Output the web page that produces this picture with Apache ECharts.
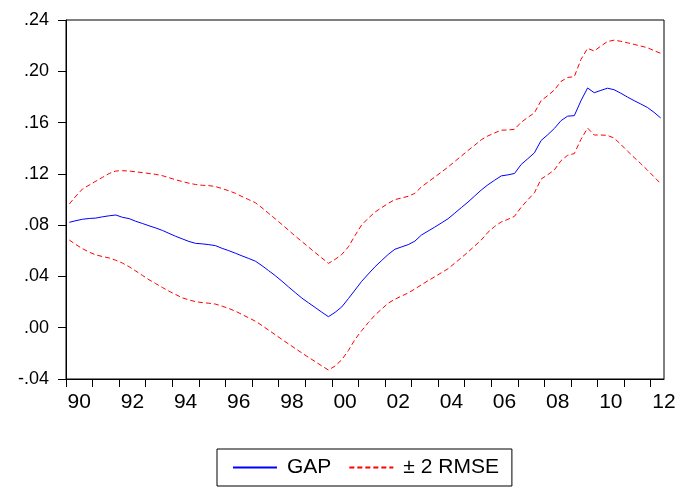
<!DOCTYPE html>
<html>
<head>
<meta charset="utf-8">
<script src="https://cdn.jsdelivr.net/npm/echarts@6/dist/echarts.min.js"></script>
<style>
  html, body { margin: 0; padding: 0; background: #fff; }
  #chart { width: 680px; height: 488px; }
</style>
</head>
<body>
<div id="chart"></div>
<script>
// quarterly observations, 1990Q1 .. 2012Q2
const startYear = 1990;

const gap = [
  0.0822, 0.0835, 0.0846, 0.0852, 0.0855, 0.0865, 0.0873, 0.0879, 0.0861, 0.0851,
  0.0830, 0.0813, 0.0795, 0.0778, 0.0759, 0.0736, 0.0713, 0.0693, 0.0673, 0.0658,
  0.0654, 0.0648, 0.0640, 0.0619, 0.0601, 0.0581, 0.0560, 0.0540, 0.0519, 0.0484,
  0.0445, 0.0406, 0.0363, 0.0318, 0.0274, 0.0231, 0.0194, 0.0158, 0.0121, 0.0086,
  0.0120, 0.0162, 0.0227, 0.0294, 0.0362, 0.0419, 0.0475, 0.0524, 0.0572, 0.0612,
  0.0630, 0.0648, 0.0675, 0.0723, 0.0754, 0.0785, 0.0817, 0.0850, 0.0893, 0.0937,
  0.0980, 0.1027, 0.1074, 0.1115, 0.1150, 0.1184, 0.1192, 0.1203, 0.1273, 0.1318,
  0.1364, 0.1460, 0.1505, 0.1554, 0.1615, 0.1650, 0.1654, 0.1770, 0.1870, 0.1833,
  0.1851, 0.1868, 0.1856, 0.1829, 0.1799, 0.1771, 0.1745, 0.1718, 0.1680, 0.1636
];

const upper = [
  0.0965, 0.1027, 0.1083, 0.1113, 0.1143, 0.1173, 0.1203, 0.1222, 0.1225, 0.1222,
  0.1216, 0.1210, 0.1203, 0.1196, 0.1186, 0.1170, 0.1154, 0.1140, 0.1127, 0.1117,
  0.1111, 0.1108, 0.1101, 0.1085, 0.1068, 0.1048, 0.1023, 0.0999, 0.0975, 0.0935,
  0.0892, 0.0849, 0.0805, 0.0760, 0.0715, 0.0672, 0.0629, 0.0586, 0.0544, 0.0502,
  0.0533, 0.0571, 0.0631, 0.0719, 0.0802, 0.0854, 0.0902, 0.0936, 0.0970, 0.0999,
  0.1012, 0.1025, 0.1048, 0.1099, 0.1137, 0.1175, 0.1214, 0.1253, 0.1296, 0.1339,
  0.1382, 0.1423, 0.1466, 0.1496, 0.1519, 0.1541, 0.1542, 0.1548, 0.1602, 0.1640,
  0.1676, 0.1771, 0.1810, 0.1854, 0.1921, 0.1952, 0.1958, 0.2092, 0.2179, 0.2158,
  0.2197, 0.2232, 0.2243, 0.2234, 0.2222, 0.2210, 0.2197, 0.2184, 0.2161, 0.2140
];

const lower = [
  0.0684, 0.0648, 0.0616, 0.0589, 0.0568, 0.0555, 0.0544, 0.0526, 0.0504, 0.0476,
  0.0442, 0.0408, 0.0374, 0.0344, 0.0314, 0.0285, 0.0259, 0.0233, 0.0217, 0.0203,
  0.0196, 0.0191, 0.0184, 0.0168, 0.0150, 0.0129, 0.0103, 0.0077, 0.0051, 0.0017,
  -0.0019, -0.0055, -0.0091, -0.0127, -0.0162, -0.0197, -0.0231, -0.0264, -0.0298, -0.0330,
  -0.0299, -0.0250, -0.0178, -0.0091, -0.0023, 0.0040, 0.0098, 0.0145, 0.0192, 0.0222,
  0.0247, 0.0271, 0.0302, 0.0335, 0.0367, 0.0397, 0.0429, 0.0460, 0.0503, 0.0546,
  0.0590, 0.0637, 0.0684, 0.0744, 0.0789, 0.0825, 0.0845, 0.0869, 0.0939, 0.0998,
  0.1052, 0.1159, 0.1193, 0.1231, 0.1303, 0.1345, 0.1358, 0.1469, 0.1557, 0.1503,
  0.1503, 0.1500, 0.1479, 0.1430, 0.1378, 0.1328, 0.1280, 0.1230, 0.1177, 0.1124
];

// year boundaries get a tick, even years get a label in the middle of the year
const yearTicks = [1990, 1991, 1992, 1993, 1994, 1995, 1996, 1997, 1998, 1999, 2000, 2001,
  2002, 2003, 2004, 2005, 2006, 2007, 2008, 2009, 2010, 2011, 2012];
const labelYears = [1990, 1992, 1994, 1996, 1998, 2000, 2002, 2004, 2006, 2008, 2010, 2012];
const yearLabels = ['90', '92', '94', '96', '98', '00', '02', '04', '06', '08', '10', '12'];

// each quarter is plotted at the middle of its period
const quarterPos = gap.map((v, i) => startYear + (i + 0.5) / 4);
const toPairs = arr => arr.map((v, i) => [quarterPos[i], v]);

const chart = echarts.init(document.getElementById('chart'));

const option = {
  animation: false,
  backgroundColor: '#fff',
  grid: {
    left: 66, right: 16, top: 20, bottom: 109,
    show: true, borderColor: '#000', borderWidth: 1
  },
  xAxis: {
    type: 'value',
    min: 1990,
    max: 2012.5,
    interval: 1,
    splitLine: { show: false },
    axisLine: { onZero: false, lineStyle: { color: '#000', width: 1 } },
    axisTick: {
      customValues: yearTicks,
      length: 8,
      lineStyle: { color: '#000' }
    },
    axisLabel: {
      customValues: labelYears.map(y => y + 0.5),
      formatter: v => yearLabels[labelYears.indexOf(Math.floor(v))] || '',
      color: '#000',
      fontFamily: 'Liberation Sans',
      fontSize: 21,
      margin: 13
    }
  },
  yAxis: {
    type: 'value',
    min: -0.04,
    max: 0.24,
    interval: 0.04,
    splitLine: { show: false },
    axisLine: { show: true, onZero: false, lineStyle: { color: '#000', width: 1 } },
    axisTick: { show: true, length: 8, lineStyle: { color: '#000' } },
    axisLabel: {
      formatter: v => (v < -1e-9 ? '-' : '') + Math.abs(v).toFixed(2).slice(1),
      color: '#000',
      fontFamily: 'Liberation Sans',
      fontSize: 18,
      margin: 17
    }
  },
  legend: {
    left: 217,
    top: 449,
    orient: 'horizontal',
    borderColor: '#000',
    borderWidth: 1,
    padding: [8, 13, 8, 15],
    itemWidth: 44,
    itemHeight: 14,
    itemGap: 17,
    itemStyle: { opacity: 0, color: 'transparent', borderWidth: 0 },
    textStyle: {
      color: '#000',
      fontFamily: 'Liberation Sans',
      fontSize: 21,
      padding: [0, 0, 0, 5]
    },
    data: ['GAP', '± 2 RMSE']
  },
  series: [
    {
      name: 'GAP',
      type: 'line',
      symbol: 'none',
      data: toPairs(gap),
      lineStyle: { color: '#0000ff', width: 1 },
      itemStyle: { color: '#0000ff' }
    },
    {
      name: '± 2 RMSE',
      type: 'line',
      symbol: 'none',
      data: toPairs(upper),
      lineStyle: { color: '#ff0000', width: 1, type: [5, 3] },
      itemStyle: { color: '#ff0000' }
    },
    {
      name: '± 2 RMSE',
      type: 'line',
      symbol: 'none',
      data: toPairs(lower),
      lineStyle: { color: '#ff0000', width: 1, type: [5, 3] },
      itemStyle: { color: '#ff0000' }
    }
  ]
};

chart.setOption(option);
</script>
</body>
</html>
